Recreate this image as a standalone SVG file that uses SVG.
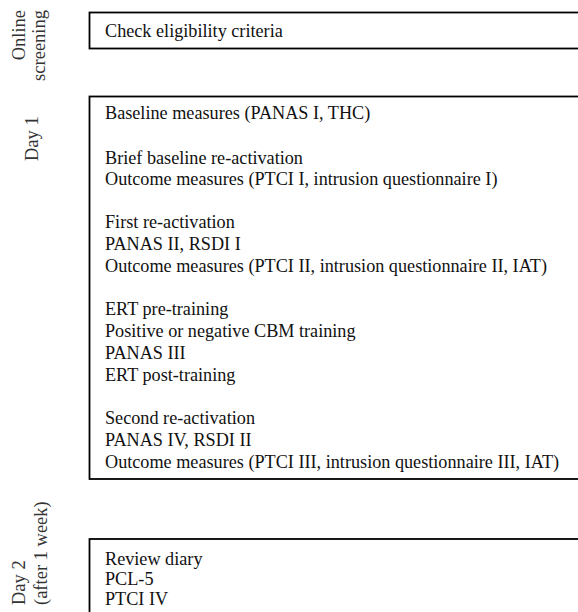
<svg xmlns="http://www.w3.org/2000/svg" width="578" height="612" viewBox="0 0 578 612">
<style>
.box{fill:#fff;stroke:#000;stroke-width:1.8}
.t{font-family:"Liberation Serif","Times New Roman",serif;font-size:18.2px;fill:#111}
.lab{font-family:"Liberation Serif","Times New Roman",serif;font-size:18.5px;fill:#333}
</style>
<rect width="578" height="612" fill="#fff"/>
<g id="labels">
<text class="lab" transform="translate(25,10) rotate(-90)" text-anchor="end">Online</text>
<text class="lab" transform="translate(45,10) rotate(-90)" text-anchor="end">screening</text>
<text class="lab" transform="translate(38,161) rotate(-90)">Day 1</text>
<text class="lab" transform="translate(25,605) rotate(-90)">Day 2</text>
<text class="lab" transform="translate(47,605) rotate(-90)">(after 1 week)</text>
</g>
<g id="connectors"></g>
<g id="screening">
<rect class="box" x="89.5" y="12.5" width="520" height="36"/>
<text class="t" x="105" y="37">Check eligibility criteria</text>
</g>
<g id="day1">
<rect class="box" x="89.5" y="96.5" width="520" height="382.5"/>
<text class="t" x="105" y="119">Baseline measures (PANAS I, THC)</text>
<text class="t" x="105" y="163.5">Brief baseline re-activation</text>
<text class="t" x="105" y="184.8">Outcome measures (PTCI I, intrusion questionnaire I)</text>
<text class="t" x="105" y="228">First re-activation</text>
<text class="t" x="105" y="249.8">PANAS II, RSDI I</text>
<text class="t" x="105" y="271.6">Outcome measures (PTCI II, intrusion questionnaire II, IAT)</text>
<text class="t" x="105" y="315.2">ERT pre-training</text>
<text class="t" x="105" y="337">Positive or negative CBM training</text>
<text class="t" x="105" y="358.8">PANAS III</text>
<text class="t" x="105" y="380.6">ERT post-training</text>
<text class="t" x="105" y="424.2">Second re-activation</text>
<text class="t" x="105" y="446">PANAS IV, RSDI II</text>
<text class="t" x="105" y="467.8">Outcome measures (PTCI III, intrusion questionnaire III, IAT)</text>
</g>
<g id="day2">
<rect class="box" x="89.5" y="539" width="520" height="100"/>
<text class="t" x="105" y="565">Review diary</text>
<text class="t" x="105" y="585">PCL-5</text>
<text class="t" x="105" y="605">PTCI IV</text>
</g>
</svg>
